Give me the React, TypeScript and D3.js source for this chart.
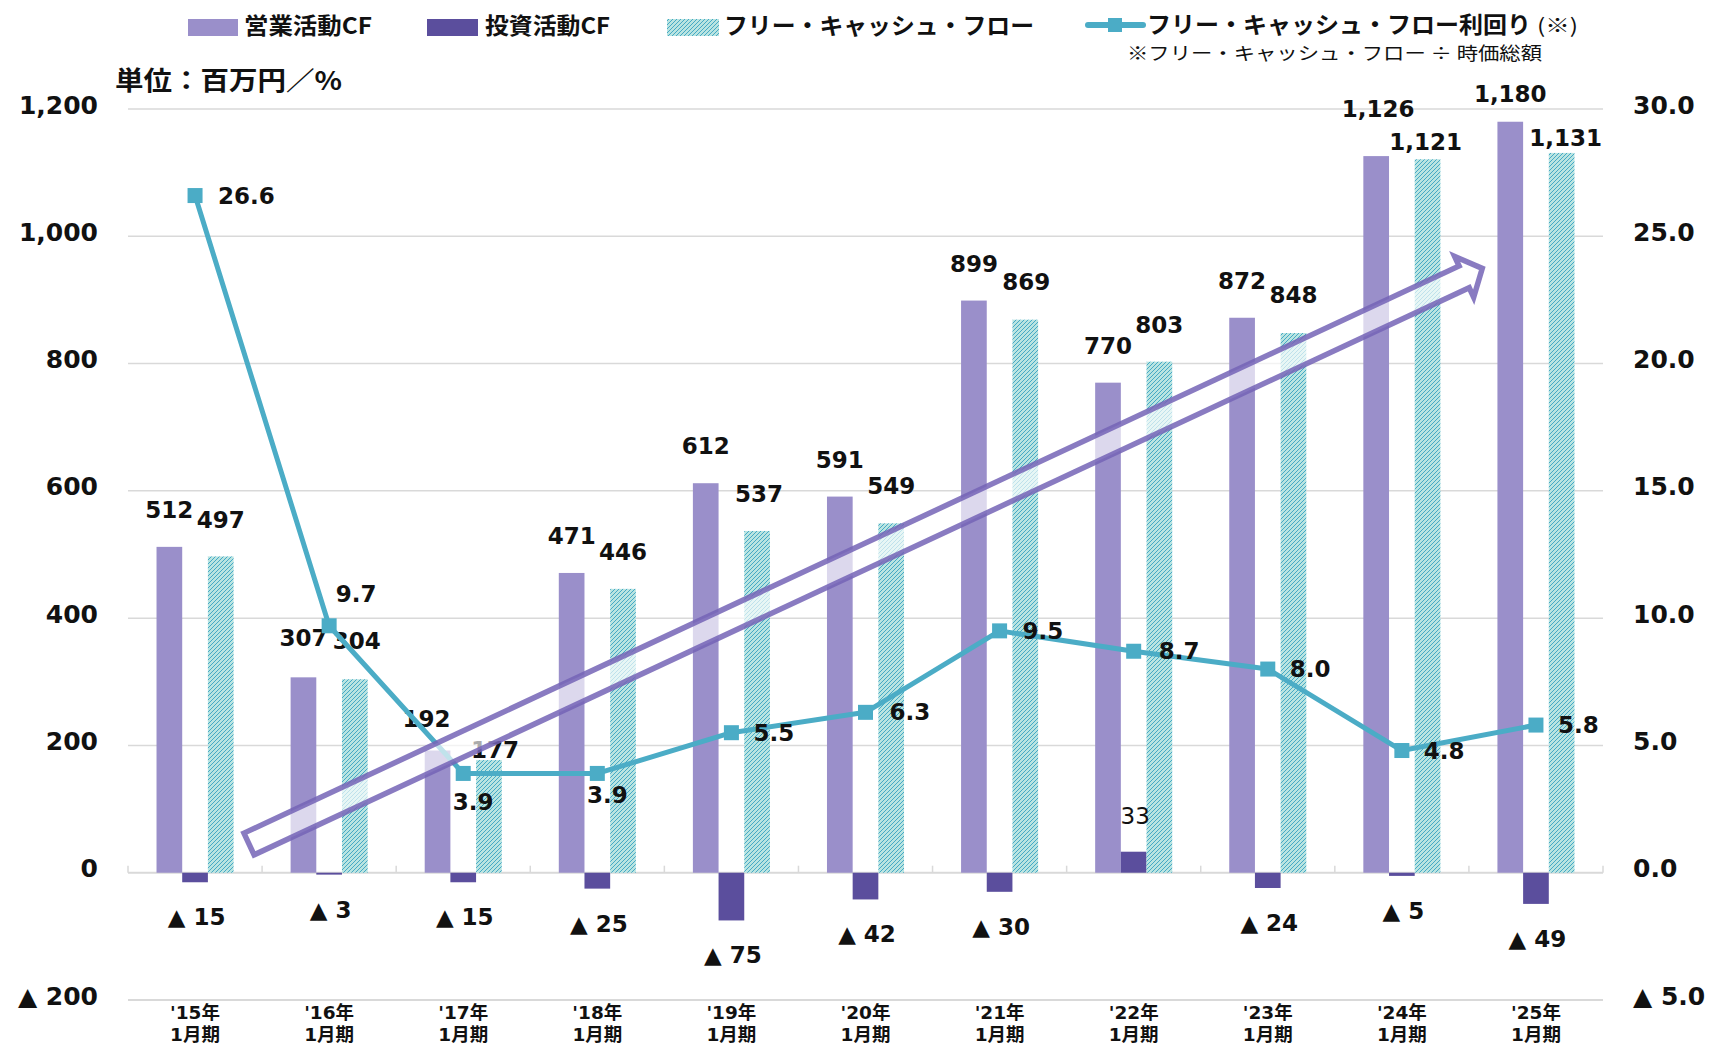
import React from 'react';
import * as d3 from 'd3';

// ---- data ----
const categories = ["'15年", "'16年", "'17年", "'18年", "'19年", "'20年", "'21年", "'22年", "'23年", "'24年", "'25年"];
const periodLabel = '1月期';
const operatingCF = [512, 307, 192, 471, 612, 591, 899, 770, 872, 1126, 1180];
const investingCF = [-15, -3, -15, -25, -75, -42, -30, 33, -24, -5, -49];
const freeCF = [497, 304, 177, 446, 537, 549, 869, 803, 848, 1121, 1131];
const fcfYield = [26.6, 9.7, 3.9, 3.9, 5.5, 6.3, 9.5, 8.7, 8.0, 4.8, 5.8];
const leftTicks = [-200, 0, 200, 400, 600, 800, 1000, 1200];
const rightTicks = [-5, 0, 5, 10, 15, 20, 25, 30];
const legendNames = ['営業活動CF', '投資活動CF', 'フリー・キャッシュ・フロー', 'フリー・キャッシュ・フロー利回り'];

// ---- label layout tweaks (pixel nudges, not data) ----
const opLabelNudge = [[0, -37], [0, -39], [-11, -31.5], [0, -36.5], [0, -37], [0, -37], [0, -37], [0, -37], [0, -37], [2, -47], [0, -28]];
const fcfLabelNudge = [[0, -36], [2, -38], [6, -10.5], [0, -37], [2, -37], [0, -37], [1, -37.5], [0, -37], [0, -38], [-2, -17], [4, -15]];
// [dx, dy, anchor]
const yieldLabelNudge: [number, number, string][] = [
  [23, 0, 'start'], [27, -32, 'middle'], [10, 29, 'middle'], [10, 22, 'middle'], [22, 0, 'start'],
  [24, 0, 'start'], [23, 0, 'start'], [25, 0, 'start'], [22, 0, 'start'], [22, 0, 'start'], [22, 0, 'start'],
];

const W = 1715;
const H = 1043;
const plotLeft = 128;
const plotRight = 1603;
const yTopPx = 109;
const yBotPx = 1000;

const C_OP = '#9a8fca';
const C_INV = '#5b4e9d';
const C_LINE = '#4bacc6';
const NUM_FONT = '"DejaVu Sans", "Noto Sans CJK JP", sans-serif';
const JP_FONT = '"Noto Sans CJK JP", "DejaVu Sans", sans-serif';

const fmtL = (v: number) => (v < 0 ? '▲ ' + d3.format(',')(-v) : d3.format(',')(v));
const fmtR = (v: number) => (v < 0 ? '▲ ' + d3.format('.1f')(-v) : d3.format('.1f')(v));
const fmtBar = (v: number) => (v < 0 ? '▲ ' + d3.format(',')(-v) : d3.format(',')(v));

export default function App() {
  const x0 = d3.scaleBand<string>().domain(categories).range([plotLeft, plotRight]).paddingInner(0).paddingOuter(0);
  const bw = x0.bandwidth();
  const xs = d3.scaleBand<string>().domain(['op', 'inv', 'fcf']).range([bw * 0.2127, bw * 0.7873]);
  const sw = xs.bandwidth();
  const yL = d3.scaleLinear().domain([-200, 1200]).range([yBotPx, yTopPx]);
  const yR = d3.scaleLinear().domain([-5, 30]).range([yBotPx, yTopPx]);
  const cx = (i: number) => (x0(categories[i]) as number) + bw / 2;

  const barRect = (i: number, key: string, v: number, fill: string) => {
    const x = (x0(categories[i]) as number) + (xs(key) as number);
    const y = Math.min(yL(v), yL(0));
    const h = Math.abs(yL(v) - yL(0));
    return <rect key={key + i} x={x} y={y} width={sw} height={Math.max(h, 1.5)} fill={fill} />;
  };

  const line = d3.line<number>().x((_, i) => cx(i)).y((d) => yR(d));

  // arrow (annotation)
  const aw = 12, ah = 22.5, aBase = 1341, aTip = 1361;
  const arrowPts = [[0, -aw], [aBase, -aw], [aBase, -ah], [aTip, 0], [aBase, ah], [aBase, aw], [0, aw]];
  const arrowPath = 'M' + arrowPts.map((p) => p.join(',')).join('L') + 'Z';

  return (
    <svg width={W} height={H} style={{ position: 'absolute', left: 0, top: 0, background: '#fff' }}>
      <defs>
        <pattern id="hatch" width="4" height="4" patternUnits="userSpaceOnUse">
          <rect width="4" height="4" fill="#b9e4e1" />
          <path d="M-1,1 l2,-2 M0,4 l4,-4 M3,5 l2,-2" stroke="#45a9c5" strokeWidth="1" />
        </pattern>
      </defs>
      <rect x={0} y={0} width={W} height={H} fill="#fff" />

      {/* gridlines */}
      {leftTicks.map((t) => (
        <line key={'g' + t} x1={plotLeft} x2={plotRight} y1={yL(t)} y2={yL(t)} stroke="#d9d9d9" strokeWidth={t === 0 || t === -200 ? 2 : 1.5} />
      ))}
      {/* category ticks on zero line */}
      {d3.range(categories.length + 1).map((i) => {
        const x = i < categories.length ? (x0(categories[i]) as number) : plotRight;
        return <line key={'t' + i} x1={x} x2={x} y1={yL(0)} y2={yL(0) - 7} stroke="#d9d9d9" strokeWidth={1.5} />;
      })}

      {/* bars */}
      {operatingCF.map((v, i) => barRect(i, 'op', v, C_OP))}
      {investingCF.map((v, i) => barRect(i, 'inv', v, C_INV))}
      {freeCF.map((v, i) => barRect(i, 'fcf', v, 'url(#hatch)'))}

      {/* axis labels */}
      {leftTicks.map((t) => (
        <text key={'l' + t} x={98} y={yL(t) - 4} textAnchor="end" dominantBaseline="central" fontFamily={NUM_FONT} fontWeight="bold" fontSize={25} fill="#111">
          {fmtL(t)}
        </text>
      ))}
      {rightTicks.map((t) => (
        <text key={'r' + t} x={1633} y={yR(t) - 4} textAnchor="start" dominantBaseline="central" fontFamily={NUM_FONT} fontWeight="bold" fontSize={25} fill="#111">
          {fmtR(t)}
        </text>
      ))}
      {categories.map((c, i) => (
        <text key={'x' + i} x={cx(i)} y={1019} textAnchor="middle" fontFamily={NUM_FONT} fontWeight="bold" fontSize={18.5} fill="#111">
          <tspan x={cx(i)}>{c}</tspan>
          <tspan x={cx(i)} dy={21.5}>{periodLabel}</tspan>
        </text>
      ))}

      {/* bar labels */}
      {operatingCF.map((v, i) => (
        <text key={'ol' + i} x={(x0(categories[i]) as number) + (xs('op') as number) + sw / 2 + opLabelNudge[i][0]} y={yL(v) + opLabelNudge[i][1]}
          textAnchor="middle" dominantBaseline="central" fontFamily={NUM_FONT} fontWeight="bold" fontSize={23} fill="#111">{fmtBar(v)}</text>
      ))}
      {freeCF.map((v, i) => (
        <text key={'fl' + i} x={(x0(categories[i]) as number) + (xs('fcf') as number) + sw / 2 + fcfLabelNudge[i][0]} y={yL(v) + fcfLabelNudge[i][1]}
          textAnchor="middle" dominantBaseline="central" fontFamily={NUM_FONT} fontWeight="bold" fontSize={23} fill="#111">{fmtBar(v)}</text>
      ))}
      {investingCF.map((v, i) => (
        <text key={'il' + i} x={(x0(categories[i]) as number) + (xs('inv') as number) + sw / 2 + 1.5} y={v < 0 ? yL(v) + 35 : yL(v) - 36}
          textAnchor="middle" dominantBaseline="central" fontFamily={NUM_FONT} fontWeight={v < 0 ? 'bold' : 'normal'} fontSize={23} fill="#111">{fmtBar(v)}</text>
      ))}

      {/* yield line */}
      <path d={line(fcfYield) as string} fill="none" stroke={C_LINE} strokeWidth={5} strokeLinejoin="round" />
      {fcfYield.map((v, i) => (
        <rect key={'m' + i} x={cx(i) - 7.5} y={yR(v) - 7.5} width={15} height={15} fill={C_LINE} />
      ))}
      {fcfYield.map((v, i) => (
        <text key={'yl' + i} x={cx(i) + yieldLabelNudge[i][0]} y={yR(v) + yieldLabelNudge[i][1]} textAnchor={yieldLabelNudge[i][2] as any}
          dominantBaseline="central" fontFamily={NUM_FONT} fontWeight="bold" fontSize={23} fill="#111">{d3.format('.1f')(v)}</text>
      ))}

      {/* growth arrow */}
      <g transform="translate(249,844) rotate(-25.02)">
        <path d={arrowPath} fill="#ffffff" fillOpacity={0.65} stroke="#7464b6" strokeOpacity={0.85} strokeWidth={5.5} strokeLinejoin="miter" />
      </g>

      {/* unit */}
      <text x={115} y={78} dominantBaseline="central" fontFamily={JP_FONT} fontWeight="bold" fontSize={26} fill="#111" textLength={227} lengthAdjust="spacingAndGlyphs">単位：百万円／%</text>

      {/* legend */}
      <rect x={188} y={19} width={50} height={17} fill={C_OP} />
      <text x={244} y={23.5} dominantBaseline="central" fontFamily={JP_FONT} fontWeight="bold" fontSize={23} fill="#111" textLength={128} lengthAdjust="spacingAndGlyphs">{legendNames[0]}</text>
      <rect x={427} y={19} width={51} height={17} fill={C_INV} />
      <text x={485} y={23.5} dominantBaseline="central" fontFamily={JP_FONT} fontWeight="bold" fontSize={23} fill="#111" textLength={125} lengthAdjust="spacingAndGlyphs">{legendNames[1]}</text>
      <rect x={667} y={19} width={52} height={17} fill="url(#hatch)" />
      <text x={724} y={23.5} dominantBaseline="central" fontFamily={JP_FONT} fontWeight="bold" fontSize={23} fill="#111" textLength={310} lengthAdjust="spacingAndGlyphs">{legendNames[2]}</text>
      <line x1={1088} x2={1143} y1={25} y2={25} stroke={C_LINE} strokeWidth={6} strokeLinecap="round" />
      <rect x={1108} y={18} width={14} height={14} fill={C_LINE} />
      <text x={1147} y={22.5} dominantBaseline="central" fontFamily={JP_FONT} fontWeight="bold" fontSize={23} fill="#111" textLength={384} lengthAdjust="spacingAndGlyphs">{legendNames[3]}</text>
      <text x={1537} y={24} dominantBaseline="central" fontFamily={JP_FONT} fontSize={20} fill="#111" textLength={41} lengthAdjust="spacingAndGlyphs">(※)</text>
      <text x={1127} y={52} dominantBaseline="central" fontFamily={JP_FONT} fontSize={18} fill="#111" textLength={415} lengthAdjust="spacingAndGlyphs">※フリー・キャッシュ・フロー ÷ 時価総額</text>
    </svg>
  );
}
